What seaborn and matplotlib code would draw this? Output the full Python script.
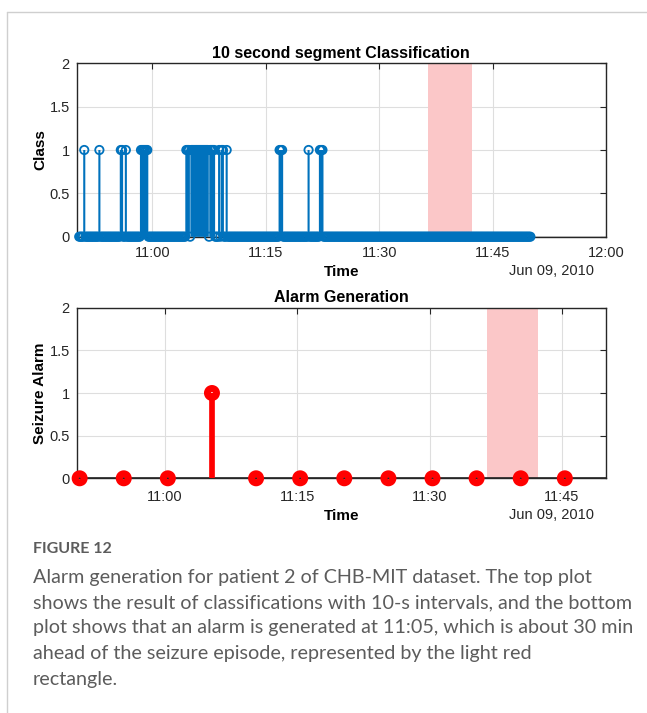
import numpy as np
import pandas as pd
import matplotlib
matplotlib.use("Agg")
import matplotlib.pyplot as plt
import matplotlib.dates as mdates
from matplotlib.lines import Line2D
from matplotlib.ticker import FuncFormatter
import seaborn as sns

# ---------------- data ----------------
DAY = "2010-06-09"

# 10-second segments: first and last segment start, step in seconds
segment_first = "10:50:20"
segment_last = "11:50:00"
segment_step_s = 10

# runs of segments classified as class 1 (inclusive start/end times)
class1_runs = [
    ("10:51:00", "10:51:00"),
    ("10:53:00", "10:53:00"),
    ("10:55:50", "10:56:00"),
    ("10:56:30", "10:56:30"),
    ("10:58:30", "10:59:20"),
    ("11:04:30", "11:04:50"),
    ("11:05:10", "11:07:20"),
    ("11:07:40", "11:08:10"),
    ("11:08:50", "11:08:50"),
    ("11:09:10", "11:09:20"),
    ("11:09:50", "11:09:50"),
    ("11:16:50", "11:17:10"),
    ("11:20:40", "11:20:40"),
    ("11:22:10", "11:22:30"),
]

# alarm decisions every 5 minutes
alarm_times = ["10:50:20", "10:55:20", "11:00:20", "11:05:20", "11:10:20", "11:15:20",
               "11:20:20", "11:25:20", "11:30:20", "11:35:20", "11:40:20", "11:45:20"]
alarm_values = [0, 0, 0, 1, 0, 0, 0, 0, 0, 0, 0, 0]

# seizure episode
seizure_start = "11:36:30"
seizure_end = "11:42:20"

y_ticks = [0, 0.5, 1, 1.5, 2]

# ---------------- build tables ----------------
def ts(hms):
    return pd.Timestamp(f"{DAY} {hms}")

seg_times = pd.date_range(ts(segment_first), ts(segment_last), freq=f"{segment_step_s}s")
seg_class = np.zeros(len(seg_times))
for a, b in class1_runs:
    seg_class[(seg_times >= ts(a)) & (seg_times <= ts(b))] = 1
seg_df = pd.DataFrame({"time": seg_times, "cls": seg_class})

alarm_df = pd.DataFrame({"time": [ts(t) for t in alarm_times], "alarm": alarm_values})

# ---------------- style ----------------
BLUE = "#0072BD"
RED = "#FF0000"
PATCH = "#FBC7C8"
INK = "#262626"

sns.set_theme(style="whitegrid", rc={
    "axes.edgecolor": INK,
    "axes.linewidth": 1.0,
    "grid.color": "#dedede",
    "grid.linewidth": 0.8,
    "xtick.color": INK,
    "ytick.color": INK,
    "xtick.direction": "in",
    "ytick.direction": "in",
})
plt.rcParams["font.family"] = ["Liberation Sans", "DejaVu Sans"]

TICK_FS = 10.5
LABEL_FS = 11
TITLE_FS = 11.5

fig = plt.figure(figsize=(6.47, 7.13), dpi=100)
W, H = 647, 713
ax1 = fig.add_axes([76.7 / W, 1 - 236.7 / H, 529.3 / W, 173.4 / H])
ax2 = fig.add_axes([76.7 / W, 1 - 478.3 / H, 529.3 / W, 170.6 / H])

yfmt = FuncFormatter(lambda v, p: f"{v:g}")


def style_axes(ax, xlo, xhi, title, ylabel, xpad, xlabelpad):
    ax.set_xlim(ts(xlo), ts(xhi))
    ax.set_ylim(0, 2)
    ax.set_yticks(y_ticks)
    ax.yaxis.set_major_formatter(yfmt)
    ax.xaxis.set_major_locator(mdates.MinuteLocator(byminute=[0, 15, 30, 45]))
    ax.xaxis.set_major_formatter(mdates.DateFormatter("%H:%M"))
    ax.tick_params(axis="both", which="major", labelsize=TICK_FS, length=4, width=0.8,
                   top=True, right=True)
    ax.tick_params(axis="x", pad=xpad)
    ax.tick_params(axis="y", pad=5)
    for s in ax.spines.values():
        s.set_visible(True)
        s.set_color(INK)
        s.set_linewidth(1.0)
    ax.grid(True, which="major")
    ax.set_axisbelow(True)
    ax.set_title(title, fontsize=TITLE_FS, fontweight="bold", color="black", pad=4)
    ax.set_xlabel("Time", fontsize=LABEL_FS, fontweight="bold", color="black",
                  labelpad=xlabelpad)
    ax.set_ylabel(ylabel, fontsize=LABEL_FS, fontweight="bold", color="black", labelpad=1.5)


# ---- top: segment classification ----
ax1.axvspan(ts(seizure_start), ts(seizure_end), color=PATCH, lw=0, zorder=1.5)
pos = seg_df[seg_df["cls"] > 0]
stems = ax1.vlines(pos["time"], 0, pos["cls"], color=BLUE, lw=1.5, zorder=3)
stems.set_snap(False)
ax1.axhline(0, color=INK, lw=1.0, zorder=2.5)
sns.scatterplot(data=seg_df, x="time", y="cls", ax=ax1, marker="o", s=36,
                color=BLUE, facecolor="none", edgecolor=BLUE, linewidth=1.3,
                clip_on=False, zorder=4, legend=False)
style_axes(ax1, "10:50:00", "12:00:00", "10 second segment Classification", "Class",
           xpad=6.5, xlabelpad=4)
ax1.text(0.977, -0.198, "Jun 09, 2010", transform=ax1.transAxes, ha="right", va="center",
         fontsize=TICK_FS, color=INK)

# ---- bottom: alarm generation ----
ax2.axvspan(ts(seizure_start), ts(seizure_end), color=PATCH, lw=0, zorder=1.5)
on = alarm_df[alarm_df["alarm"] > 0]
ax2.vlines(on["time"], 0, on["alarm"], color=RED, lw=4.1, zorder=3)
ax2.axhline(0, color=INK, lw=1.2, zorder=2.5)
sns.scatterplot(data=alarm_df, x="time", y="alarm", ax=ax2, marker="o", s=6.5 ** 2,
                color=RED, facecolor="none", edgecolor=RED, linewidth=5,
                clip_on=False, zorder=4, legend=False)
style_axes(ax2, "10:50:00", "11:50:00", "Alarm Generation", "Seizure Alarm",
           xpad=8.5, xlabelpad=3.5)
ax2.text(0.977, -0.215, "Jun 09, 2010", transform=ax2.transAxes, ha="right", va="center",
         fontsize=TICK_FS, color=INK)

# ---- page frame ----
frame = "#cfcfcf"
fig.add_artist(Line2D([7 / W, 7 / W], [0, 1 - 12 / H], transform=fig.transFigure,
                      color=frame, lw=1.0))
fig.add_artist(Line2D([7 / W, 1], [1 - 12 / H, 1 - 12 / H], transform=fig.transFigure,
                      color=frame, lw=1.0))

# ---- caption ----
cap_color = "#5c5c5c"
cap_font = ["Lato", "DejaVu Sans"]
fig.text(33 / W, 1 - 549 / H, "FIGURE 12", fontsize=11.5, fontweight="bold",
         color=cap_color, family=cap_font, va="center", ha="left")
caption_lines = [
    "Alarm generation for patient 2 of CHB-MIT dataset. The top plot",
    "shows the result of classifications with 10-s intervals, and the bottom",
    "plot shows that an alarm is generated at 11:05, which is about 30 min",
    "ahead of the seizure episode, represented by the light red",
    "rectangle.",
]
for k, line in enumerate(caption_lines):
    fig.text(33 / W, 1 - (577 + 25.5 * k) / H, line, fontsize=14.2, fontweight="normal",
             color=cap_color, family=cap_font, va="center", ha="left")

fig.savefig("out.png", dpi=100, facecolor="white")
